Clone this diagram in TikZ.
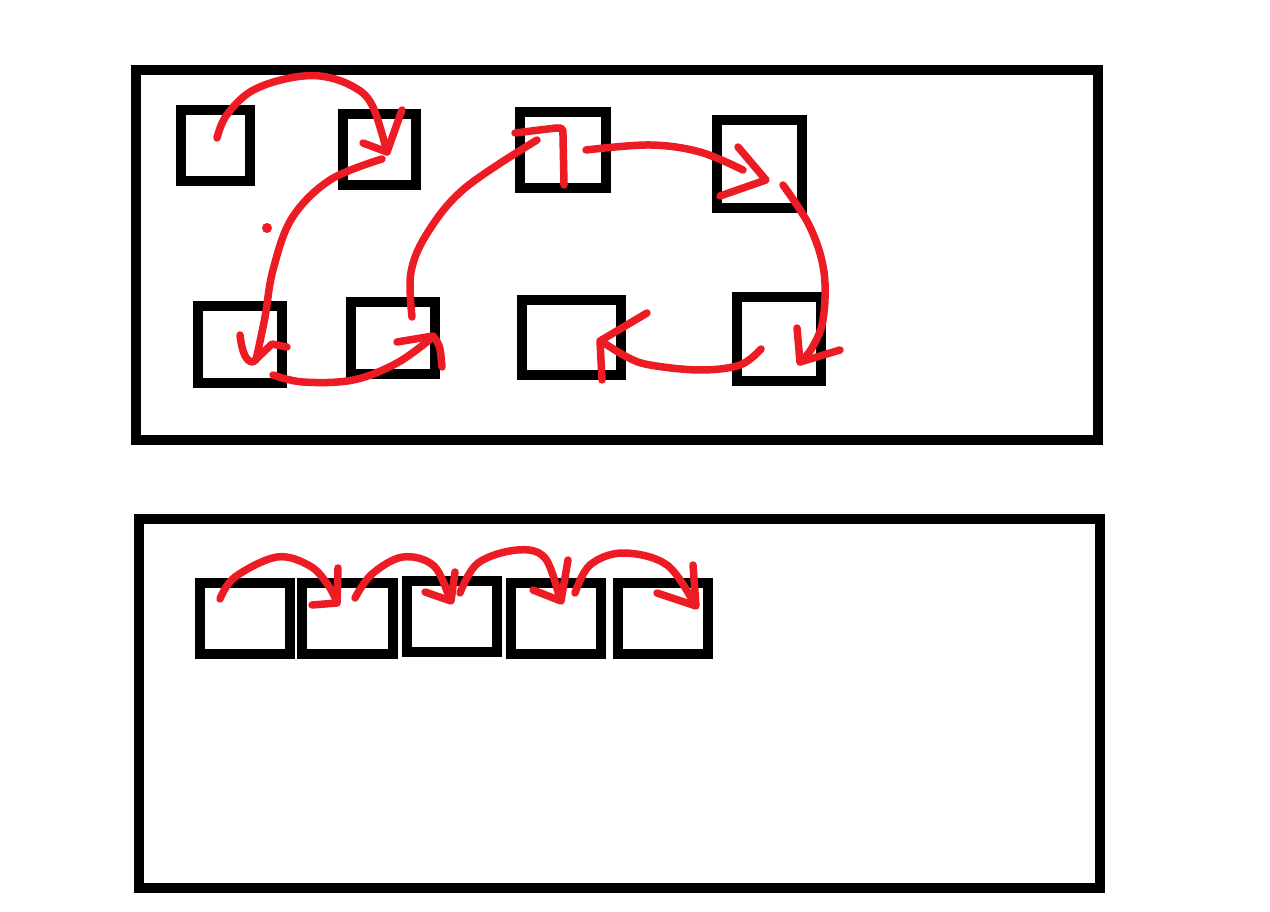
\documentclass[tikz,border=0pt]{standalone}
\definecolor{pred}{RGB}{237,28,36}
\tikzset{
  box/.style={draw=black, line width=10pt, rectangle, inner sep=0pt},
  frame/.style={draw=black, line width=10pt, rectangle, inner sep=0pt},
  stroke/.style={draw=pred, line width=7.5pt, line cap=round, line join=round},
}
\begin{document}
\begin{tikzpicture}[x=1pt,y=-1pt]
\useasboundingbox (0,0) rectangle (1270,912);
% frames
\node[frame, minimum width=962pt, minimum height=370pt] (top) at (617,255) {};
\node[frame, minimum width=961pt, minimum height=369pt] (bot) at (619.5,703.5) {};
% top boxes
\node[box, minimum width=69pt, minimum height=71pt] (b1) at (215.5,145.5) {};
\node[box, minimum width=73pt, minimum height=71pt] (b2) at (379.5,149.5) {};
\node[box, minimum width=86pt, minimum height=76pt] (b3) at (563,150) {};
\node[box, minimum width=85pt, minimum height=88pt] (b4) at (759.5,164) {};
\node[box, minimum width=84pt, minimum height=77pt] (b5) at (240,344.5) {};
\node[box, minimum width=84pt, minimum height=72pt] (b6) at (393,338) {};
\node[box, minimum width=99pt, minimum height=75pt] (b7) at (571.5,337.5) {};
\node[box, minimum width=84pt, minimum height=84pt] (b8) at (779,339) {};
% bottom boxes
\node[box, minimum width=90pt, minimum height=71pt] (c1) at (245,618.5) {};
\node[box, minimum width=91pt, minimum height=71pt] (c2) at (347.5,618.5) {};
\node[box, minimum width=90pt, minimum height=71pt] (c3) at (452,616.5) {};
\node[box, minimum width=90pt, minimum height=71pt] (c4) at (556,618.5) {};
\node[box, minimum width=90pt, minimum height=71pt] (c5) at (663,618.5) {};

% ---- top strokes ----
% b1 -> b2
\draw[stroke] plot[smooth, tension=0.6] coordinates {(217,138) (226,116) (250,92) (285,79) (320,76) (352,86) (372,105) (387,152)};
\draw[stroke] (402,110) -- (387,152) -- (363,143);
% b2 -> b5
\draw[stroke] plot[smooth, tension=0.6] coordinates {(382,159) (330,180) (292,218) (273,270) (265,317) (256,360)};
\draw[stroke] (240,335) .. controls (242,352) and (246,362) .. (253,362) -- (272,344) -- (287,347);
\fill[pred] (267,228) circle (5pt);
% b5 -> b6
\draw[stroke] plot[smooth, tension=0.6] coordinates {(273,375) (303,382) (353,380) (397,363) (433,337)};
\draw[stroke] (397,342) -- (433,336) .. controls (440,345) .. (442,367);
% b6 -> b3
\draw[stroke] plot[smooth, tension=0.6] coordinates {(412,317) (411,272) (428,232) (465,188) (537,140)};
\draw[stroke] (515,133) -- (556,128) .. controls (563,128) .. (563,136) -- (564,185);
% b3 -> b4
\draw[stroke] plot[smooth, tension=0.6] coordinates {(586,150) (650,145) (700,152) (743,170)};
\draw[stroke] (738,147) -- (766,180) -- (720,196);
% b4 -> b8
\draw[stroke] plot[smooth, tension=0.6] coordinates {(783,185) (810,227) (824,272) (823,320) (812,348) (800,362)};
\draw[stroke] (797,328) -- (800,362) -- (840,350);
% b8 -> b7
\draw[stroke] plot[smooth, tension=0.6] coordinates {(761,349) (740,365) (700,370) (650,365) (627,357) (601,341)};
\draw[stroke] (647,313) -- (600,341) -- (602,380);

% ---- bottom strokes ----
\draw[stroke] plot[smooth, tension=0.6] coordinates {(220,599) (235,577) (277,557) (310,566) (328,585) (337,602)};
\draw[stroke] (338,568) -- (337,603) -- (312,605);
\draw[stroke] plot[smooth, tension=0.6] coordinates {(355,598) (372,574) (403,557) (434,566) (450,600)};
\draw[stroke] (455,572) -- (451,601) -- (425,592);
\draw[stroke] plot[smooth, tension=0.6] coordinates {(460,593) (478,563) (517,550) (545,558) (560,600)};
\draw[stroke] (568,560) -- (561,601) -- (533,590);
\draw[stroke] plot[smooth, tension=0.6] coordinates {(575,593) (590,565) (623,553) (667,565) (695,605)};
\draw[stroke] (693,565) -- (696,606) -- (657,593);
\end{tikzpicture}
\end{document}
